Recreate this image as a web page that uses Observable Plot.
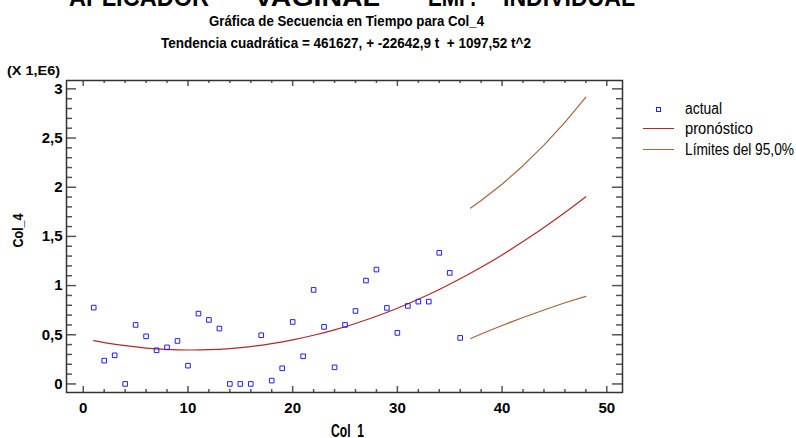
<!DOCTYPE html>
<html><head><meta charset="utf-8">
<script src="https://cdn.jsdelivr.net/npm/d3@7"></script>
<script src="https://cdn.jsdelivr.net/npm/@observablehq/plot@0.6"></script>
<style>
html,body{margin:0;padding:0;background:#fff;}
#wrap{position:relative;width:796px;height:438px;overflow:hidden;background:#fff;}
#wrap svg{position:absolute;left:0;top:0;}
.lbl{position:absolute;white-space:pre;color:#000;line-height:1;}
</style></head><body><div id="wrap"></div>
<script>
// ---- data (values in millions, as on the axis "(X 1,E6)") ----
const time = [1,2,3,4,5,6,7,8,9,10,11,12,13,14,15,16,17,18,19,20,21,22,23,24,25,26,27,28,29,30,31,32,33,34,35,36];
const actual = [0.776,0.237,0.291,0.000,0.600,0.484,0.342,0.372,0.437,0.186,0.715,0.651,0.563,0.000,0.000,0.000,0.495,0.034,0.159,0.630,0.281,0.956,0.580,0.169,0.600,0.742,1.051,1.163,0.773,0.519,0.793,0.837,0.837,1.333,1.129,0.468];
const trendT = [1,2,4,6,8,10,12,14,16,18,20,22,24,26,28,30,32,34,36,38,40,42,44,46,48];
const trendV = [0.440,0.421,0.389,0.365,0.351,0.345,0.348,0.360,0.380,0.410,0.448,0.495,0.550,0.615,0.688,0.770,0.861,0.961,1.069,1.186,1.312,1.447,1.590,1.742,1.903];
const limT = [37,38,40,42,44,46,48];
const upper = [1.788,1.864,2.030,2.219,2.428,2.659,2.915];
const lower = [0.462,0.508,0.594,0.675,0.752,0.825,0.890];
const xTicks = [0,10,20,30,40,50];
const xTickLabels = ["0","10","20","30","40","50"];
const yTicks = [0,0.5,1,1.5,2,2.5,3];
const yTickLabels = ["0","0,5","1","1,5","2","2,5","3"];
const titleWords = ["APLICADOR","VAGINAL","EMP.","INDIVIDUAL"];
const subtitle = "Gráfica de Secuencia en Tiempo para Col_4";
const trendText = "Tendencia cuadrática = 461627, + -22642,9 t  + 1097,52 t^2";
const scaleNote = "(X 1,E6)";
const xTitle = "Col_1";
const yTitle = "Col_4";
const legendLabels = ["actual","pronóstico","Límites del 95,0%"];

// ---- layout ----
const W = 796, H = 438, ML = 66, MR = 174, MT = 80, MB = 46;
const FW = W - ML - MR, FH = H - MT - MB;
const FONT = '"Liberation Sans Narrow","Arial Narrow","Liberation Sans",Arial,sans-serif';
const cPoint = "#1f1fff", cFore = "#b42828", cLim = "#a8643a", cTick = "#555";

const pts = time.map((t, i) => ({t, v: actual[i]}));
const trend = trendT.map((t, i) => ({t, v: trendV[i]}));
const up = limT.map((t, i) => ({t, v: upper[i]}));
const lo = limT.map((t, i) => ({t, v: lower[i]}));

const yMinor = d3.range(1, 30).map(d => d / 10).filter(d => Math.round(d * 10) % 5 !== 0);
const xMinor = d3.range(2, 50, 2).filter(d => d % 10 !== 0);

const chart = Plot.plot({
  width: W, height: H,
  marginLeft: ML, marginRight: MR, marginTop: MT, marginBottom: MB,
  style: {fontFamily: FONT, fontSize: "15px", fontWeight: "bold", color: "#000", background: "transparent"},
  x: {domain: [-1.6, 51.5], ticks: xTicks, tickFormat: d => xTickLabels[xTicks.indexOf(d)], tickSize: 0, tickPadding: 10, label: null},
  y: {domain: [-0.087, 3.085], ticks: yTicks, tickFormat: d => yTickLabels[yTicks.indexOf(d)], tickSize: 0, tickPadding: 4, label: null},
  marks: [
    // inward ticks (left/right/bottom/top)
    Plot.ruleY(yTicks, {stroke: cTick, strokeWidth: 1.5, insetRight: FW - 10}),
    Plot.ruleY(yMinor, {stroke: cTick, strokeWidth: 1.5, insetRight: FW - 6}),
    Plot.ruleY(yTicks, {stroke: cTick, strokeWidth: 1.5, insetLeft: FW - 10}),
    Plot.ruleY(yMinor, {stroke: cTick, strokeWidth: 1.5, insetLeft: FW - 6}),
    Plot.ruleX(xTicks, {stroke: cTick, strokeWidth: 1.5, insetTop: FH - 6}),
    Plot.ruleX(xMinor, {stroke: cTick, strokeWidth: 1.5, insetTop: FH - 3}),
    Plot.ruleX(xTicks, {stroke: cTick, strokeWidth: 1.5, insetBottom: FH - 6}),
    Plot.ruleX(xMinor, {stroke: cTick, strokeWidth: 1.5, insetBottom: FH - 3}),
    Plot.frame({stroke: "#333", strokeWidth: 1.5}),
    Plot.line(trend, {x: "t", y: "v", stroke: cFore, strokeWidth: 1.2, curve: "catmull-rom"}),
    Plot.line(up, {x: "t", y: "v", stroke: cLim, strokeWidth: 1.2}),
    Plot.line(lo, {x: "t", y: "v", stroke: cLim, strokeWidth: 1.2}),
    Plot.dot(pts, {x: "t", y: "v", symbol: "square", r: 2.6, stroke: cPoint, strokeWidth: 1, fill: "none"})
  ]
});
const wrap = document.getElementById("wrap");
wrap.appendChild(chart);

// ---- text overlays ----
function put(text, o) {
  const s = document.createElement("span");
  s.className = "lbl";
  s.textContent = text;
  s.style.fontFamily = FONT;
  s.style.fontSize = o.size + "px";
  s.style.fontWeight = o.weight || 700;
  wrap.appendChild(s);
  const w = s.getBoundingClientRect().width;
  const k = o.width ? o.width / w : 1;
  const ww = w * k;
  let left = o.left != null ? o.left : o.center - ww / 2;
  let top;
  if (o.baseline != null) top = o.baseline - 0.8465 * o.size;
  else top = o.cy - 0.4885 * o.size;
  if (o.rotate) {
    s.style.left = (o.cx - w / 2) + "px";
    s.style.top = (o.cy - o.size / 2) + "px";
    s.style.transformOrigin = "50% 50%";
    s.style.transform = `rotate(-90deg) scaleX(${k})`;
  } else {
    s.style.left = left + "px";
    s.style.top = top + "px";
    s.style.transformOrigin = "0 0";
    s.style.transform = `scaleX(${k})`;
  }
  return s;
}
const wordPos = [[69, 140], [254, 126], [428, 48], [503, 132]];
titleWords.forEach((w, i) => put(w, {left: wordPos[i][0], width: wordPos[i][1], baseline: 6, size: 26}));
put(subtitle, {center: 346, width: 275, baseline: 25.5, size: 14});
put(trendText, {center: 346, width: 370, baseline: 47.5, size: 14});
put(scaleNote, {left: 7, width: 53, baseline: 75, size: 13});
put(xTitle, {center: 347, width: 33, baseline: 437.5, size: 18});
put(yTitle, {rotate: true, cx: 17, cy: 230, width: 34, size: 15});

// legend
function box(left, top, w, h, css) {
  const d = document.createElement("div");
  d.style.position = "absolute";
  d.style.left = left + "px"; d.style.top = top + "px";
  d.style.width = w + "px"; d.style.height = h + "px";
  Object.assign(d.style, css);
  wrap.appendChild(d);
}
box(656, 107, 3, 3, {border: "1px solid " + cPoint});
box(643, 127.5, 31, 1.3, {background: cFore});
box(643, 149, 31, 1.3, {background: cLim});
put(legendLabels[0], {left: 685, width: 37, cy: 109, size: 16, weight: 400});
put(legendLabels[1], {left: 685, width: 68, cy: 128.5, size: 16, weight: 400});
put(legendLabels[2], {left: 685, width: 109, cy: 150, size: 16, weight: 400});
</script></body></html>
